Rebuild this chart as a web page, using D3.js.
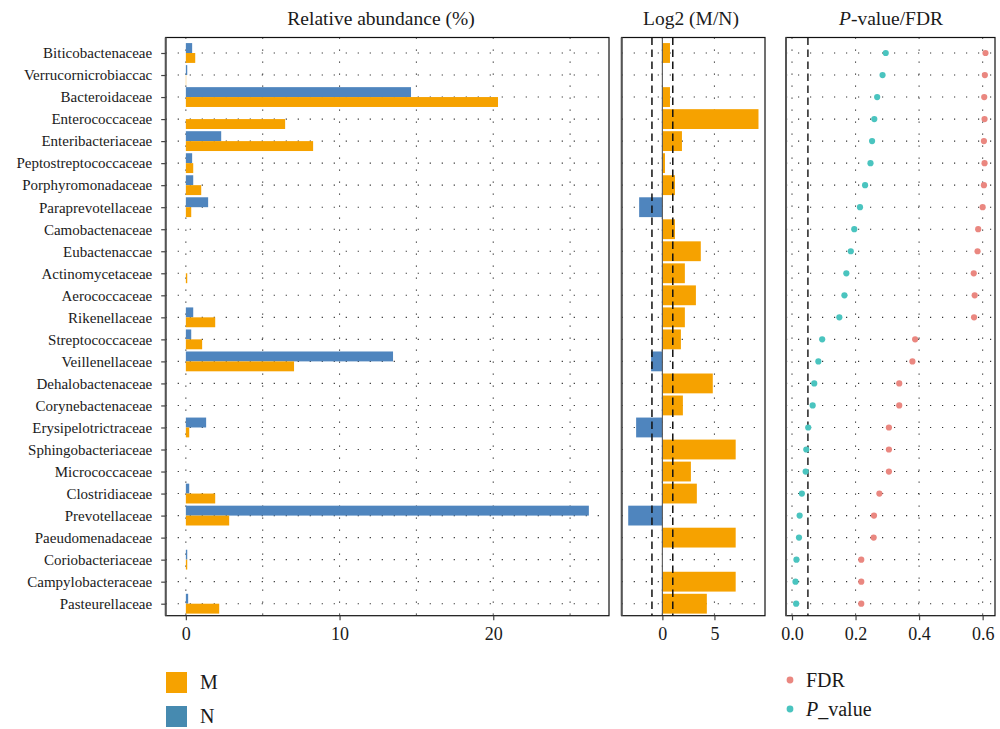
<!DOCTYPE html>
<html>
<head>
<meta charset="utf-8">
<script src="https://cdn.jsdelivr.net/npm/d3@7"></script>
<style>
  html, body { margin: 0; padding: 0; background: #fff; }
  svg { display: block; }
  text { font-family: "Liberation Serif", "DejaVu Serif", serif; fill: #1a1a1a; }
</style>
</head>
<body>
<svg id="chart" width="1000" height="729"></svg>
<script>
// Families, top to bottom
const categories = [
  "Biticobactenaceae", "Verrucornicrobiaccac", "Bacteroidaceae", "Enterococcaceae",
  "Enteribacteriaceae", "Peptostreptococcaceae", "Porphyromonadaceae", "Paraprevotellaceae",
  "Camobactenaceae", "Eubactenaccae", "Actinomycetaceae", "Aerococcaceae",
  "Rikenellaceae", "Streptococcaceae", "Veillenellaceae", "Dehalobactenaceae",
  "Corynebactenaceae", "Erysipelotrictraceae", "Sphingobacteriaceae", "Micrococcaceae",
  "Clostridiaceae", "Prevotellaceae", "Paeudomenadaceae", "Coriobacteriaceae",
  "Campylobacteraceae", "Pasteurellaceae"
];

// Relative abundance (%) per group
const abundanceM = [0.61, 0.02, 20.31, 6.46, 8.28, 0.48, 1.00, 0.35, 0, 0, 0.09, 0, 1.91,
                    1.06, 7.04, 0, 0, 0.22, 0, 0, 1.91, 2.82, 0, 0.09, 0, 2.17];
const abundanceN = [0.41, 0.09, 14.65, 0, 2.30, 0.41, 0.48, 1.45, 0, 0, 0, 0, 0.48,
                    0.35, 13.48, 0, 0, 1.32, 0, 0, 0.22, 26.22, 0, 0.09, 0, 0.15];

// Log2 fold change (M/N)
const log2FC = [0.73, 0, 0.73, 9.23, 1.88, 0.25, 1.21, -2.23, 1.21, 3.69, 2.16, 3.22, 2.16,
                1.78, -1.08, 4.84, 1.97, -2.52, 7.04, 2.74, 3.31, -3.28, 7.04, 0, 7.04, 4.27];

// Significance
const pValue = [0.295, 0.285, 0.268, 0.259, 0.252, 0.247, 0.230, 0.214, 0.196, 0.185, 0.171,
                0.165, 0.149, 0.095, 0.083, 0.070, 0.065, 0.051, 0.045, 0.043, 0.031, 0.024,
                0.022, 0.014, 0.011, 0.013];
const fdr = [0.609, 0.607, 0.605, 0.606, 0.604, 0.606, 0.604, 0.600, 0.586, 0.584, 0.572,
             0.575, 0.573, 0.3875, 0.379, 0.3375, 0.3375, 0.305, 0.305, 0.305, 0.275, 0.258,
             0.257, 0.218, 0.218, 0.218];

// Axis ticks and reference lines
const abundanceTicks = [0, 10, 20];
const abundanceGrid = [0, 5, 10, 15, 20, 25];
const fcTicks = [0, 5];
const fcCutoffs = [-1, 1];
const pTicks = [0, 0.2, 0.4, 0.6];
const pCutoff = [0.05];

const groups = ["M", "N"];
const groupColor = { M: "#F6A200", N: "#4F85BE" };
const legendColor = { M: "#F6A200", N: "#468AB0" };
const fdrColor = "#EA8780";
const pColor = "#4AC4BF";

const svg = d3.select("#chart");

const plotTop = 37.5, plotBottom = 615.7;
const panels = {
  abundance: { x0: 165.7, x1: 609 },
  fc: { x0: 621.7, x1: 765 },
  p: { x0: 786, x1: 995 }
};

const y = d3.scalePoint().domain(categories).range([53, 603.7]);
const rowStep = y.step();

function padded(values) {
  const [lo, hi] = d3.extent(values);
  const pad = (hi - lo) * 0.05;
  return [lo - pad, hi + pad];
}

const xA = d3.scaleLinear().domain(padded(abundanceM.concat(abundanceN, [0])))
  .range([panels.abundance.x0, panels.abundance.x1]);
const xF = d3.scaleLinear().domain(padded(log2FC))
  .range([panels.fc.x0, panels.fc.x1]);
const xP = d3.scaleLinear().domain(padded(pValue.concat(fdr)))
  .range([panels.p.x0, panels.p.x1]);

const dots = "1.2 10.8";

function drawGrid(g, panel, xs, gridVals) {
  g.append("g").selectAll("line").data(categories).join("line")
    .attr("x1", panel.x0).attr("x2", panel.x1)
    .attr("y1", d => y(d)).attr("y2", d => y(d))
    .attr("stroke", "#333").attr("stroke-width", 1.1)
    .attr("stroke-dasharray", dots);
  g.append("g").selectAll("line").data(gridVals).join("line")
    .attr("x1", d => xs(d)).attr("x2", d => xs(d))
    .attr("y1", plotTop).attr("y2", plotBottom)
    .attr("stroke", "#333").attr("stroke-width", 1.1)
    .attr("stroke-dasharray", dots);
}

function drawFrame(g, panel) {
  g.append("rect")
    .attr("x", panel.x0).attr("y", plotTop)
    .attr("width", panel.x1 - panel.x0).attr("height", plotBottom - plotTop)
    .attr("fill", "none").attr("stroke", "#111").attr("stroke-width", 1.2);
  g.append("line")
    .attr("x1", panel.x0).attr("x2", panel.x0)
    .attr("y1", plotTop).attr("y2", plotBottom)
    .attr("stroke", "#555").attr("stroke-width", 2);
}

function drawXAxis(panel, xs, ticks, fmt) {
  const axis = d3.axisBottom(xs).tickValues(ticks).tickSize(4.5).tickFormat(fmt);
  const g = svg.append("g").attr("transform", `translate(0,${plotBottom})`).call(axis);
  g.select(".domain").remove();
  g.selectAll("line").attr("stroke", "#444").attr("stroke-width", 1.2);
  g.selectAll("text")
    .attr("y", 24.5)
    .attr("dy", 0)
    .style("font-family", "'Liberation Serif', serif")
    .style("font-size", "18px")
    .attr("fill", "#222");
}

function drawTitle(text, x, italicP) {
  const t = svg.append("text")
    .attr("x", x).attr("y", 25)
    .attr("text-anchor", "middle")
    .style("font-size", "19.5px");
  if (italicP) {
    t.append("tspan").style("font-style", "italic").text("P");
    t.append("tspan").text(text);
  } else {
    t.text(text);
  }
}

// ---------- Panel 1: relative abundance ----------
const g1 = svg.append("g");
drawGrid(g1, panels.abundance, xA, abundanceGrid);

const halfBar = rowStep * 0.45;
const barRows = [];
categories.forEach((c, i) => {
  barRows.push({ cat: c, group: "N", value: abundanceN[i] });
  barRows.push({ cat: c, group: "M", value: abundanceM[i] });
});
g1.append("g").selectAll("rect").data(barRows.filter(d => d.value > 0)).join("rect")
  .attr("x", xA(0))
  .attr("width", d => xA(d.value) - xA(0))
  .attr("y", d => d.group === "N" ? y(d.cat) - halfBar : y(d.cat))
  .attr("height", halfBar)
  .attr("fill", d => groupColor[d.group]);

drawFrame(g1, panels.abundance);

// category axis on the left of the first panel
const yAxis = d3.axisLeft(y).tickSize(4.5).tickPadding(9);
const ya = svg.append("g").attr("transform", `translate(${panels.abundance.x0},0)`).call(yAxis);
ya.select(".domain").remove();
ya.selectAll("line").attr("stroke", "#444").attr("stroke-width", 1.2);
ya.selectAll("text")
  .style("font-family", "'Liberation Serif', serif")
  .style("font-size", "15px")
  .attr("fill", "#222");

drawXAxis(panels.abundance, xA, abundanceTicks, d3.format("d"));
drawTitle("Relative abundance (%)", 381, false);

// ---------- Panel 2: log2 fold change ----------
const g2 = svg.append("g");
drawGrid(g2, panels.fc, xF, fcTicks);

const fullBar = rowStep * 0.9;
g2.append("g").selectAll("rect")
  .data(categories.map((c, i) => ({ cat: c, value: log2FC[i] })).filter(d => d.value !== 0))
  .join("rect")
  .attr("x", d => xF(Math.min(0, d.value)))
  .attr("width", d => Math.abs(xF(d.value) - xF(0)))
  .attr("y", d => y(d.cat) - fullBar / 2)
  .attr("height", fullBar)
  .attr("fill", d => d.value >= 0 ? groupColor.M : groupColor.N);

g2.append("line")
  .attr("x1", xF(0)).attr("x2", xF(0)).attr("y1", plotTop).attr("y2", plotBottom)
  .attr("stroke", "#555").attr("stroke-width", 1.1);

g2.append("g").selectAll("line").data(fcCutoffs).join("line")
  .attr("x1", d => xF(d)).attr("x2", d => xF(d))
  .attr("y1", plotTop).attr("y2", plotBottom)
  .attr("stroke", "#111").attr("stroke-width", 1.5)
  .attr("stroke-dasharray", "7.5 4.5");

drawFrame(g2, panels.fc);
drawXAxis(panels.fc, xF, fcTicks, d3.format("d"));
drawTitle("Log2 (M/N)", 691, false);

// ---------- Panel 3: P-value / FDR ----------
const g3 = svg.append("g");
drawGrid(g3, panels.p, xP, pTicks);

g3.append("g").selectAll("line").data(pCutoff).join("line")
  .attr("x1", d => xP(d)).attr("x2", d => xP(d))
  .attr("y1", plotTop).attr("y2", plotBottom)
  .attr("stroke", "#444").attr("stroke-width", 1.8)
  .attr("stroke-dasharray", "7.5 4.5");

g3.append("g").selectAll("circle").data(categories).join("circle")
  .attr("cx", (d, i) => xP(fdr[i])).attr("cy", d => y(d))
  .attr("r", 3.1).attr("fill", fdrColor);
g3.append("g").selectAll("circle").data(categories).join("circle")
  .attr("cx", (d, i) => xP(pValue[i])).attr("cy", d => y(d))
  .attr("r", 3.1).attr("fill", pColor);

drawFrame(g3, panels.p);
drawXAxis(panels.p, xP, pTicks, d3.format(".1f"));
drawTitle("-value/FDR", 891, true);

// ---------- Legends ----------
const leg1 = svg.append("g");
groups.forEach((gname, i) => {
  const yy = 672 + i * 34;
  leg1.append("rect").attr("x", 166).attr("y", yy).attr("width", 21).attr("height", 21)
    .attr("fill", legendColor[gname]);
  leg1.append("text").attr("x", 200).attr("y", yy + 17)
    .style("font-size", "20px").text(gname);
});

const leg2 = svg.append("g");
const pLegend = [
  { label: "FDR", color: fdrColor, italic: false },
  { label: "_value", color: pColor, italic: true }
];
pLegend.forEach((d, i) => {
  const yy = 680 + i * 29;
  leg2.append("circle").attr("cx", 790).attr("cy", yy).attr("r", 3.4).attr("fill", d.color);
  const t = leg2.append("text").attr("x", 806).attr("y", yy + 7).style("font-size", "20px");
  if (d.italic) {
    t.append("tspan").style("font-style", "italic").text("P");
    t.append("tspan").text(d.label);
  } else {
    t.text(d.label);
  }
});
</script>
</body>
</html>
